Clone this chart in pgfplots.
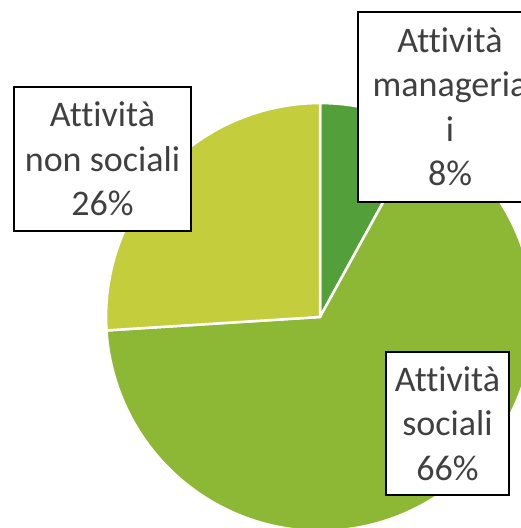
\documentclass[border=0pt]{standalone}
\usepackage{pgfplots}
\pgfplotsset{compat=1.18}
\usepackage{pgfplotstable}
\usepackage{fontspec}
\setmainfont{Carlito}[Ligatures={NoCommon}]
\definecolor{cMan}{RGB}{83,159,57}
\definecolor{cSoc}{RGB}{141,184,54}
\definecolor{cNon}{RGB}{196,206,60}
\definecolor{txt}{RGB}{64,64,64}
% shares (percent)
\pgfplotstableread{
label value
manageriali 8
sociali 66
nonsociali 26
}\piedata
\pgfplotstablegetelem{0}{value}\of\piedata \let\vA\pgfplotsretval
\pgfplotstablegetelem{1}{value}\of\piedata \let\vB\pgfplotsretval
\pgfplotstablegetelem{2}{value}\of\piedata \let\vC\pgfplotsretval
\pgfmathsetmacro{\aZ}{90}
\pgfmathsetmacro{\aA}{\aZ-3.6*\vA}
\pgfmathsetmacro{\aB}{\aA-3.6*\vB}
\pgfmathsetmacro{\aC}{\aB-3.6*\vC}
\begin{document}
\begin{tikzpicture}
\useasboundingbox (0,0) rectangle (521bp,528bp);
\clip (0,0) rectangle (521bp,528bp);
\begin{axis}[at={(0,0)}, anchor=south west, scale only axis,
  width=521bp, height=528bp, hide axis,
  xmin=-1.4884, xmax=0.9349, ymin=-0.9814, ymax=1.4744]
\addplot[fill=cMan, draw=white, line width=2.5bp, domain=\aA:\aZ, samples=40, variable=\t]
  ({0.995*cos(\t)},{0.995*sin(\t)}) -- (axis cs:0,0) -- cycle;
\addplot[fill=cSoc, draw=white, line width=2.5bp, domain=\aB:\aA, samples=150, variable=\t]
  ({0.995*cos(\t)},{0.995*sin(\t)}) -- (axis cs:0,0) -- cycle;
\addplot[fill=cNon, draw=white, line width=2.5bp, domain=\aC:\aB, samples=80, variable=\t]
  ({0.995*cos(\t)},{0.995*sin(\t)}) -- (axis cs:0,0) -- cycle;
\end{axis}
\tikzset{lbl/.style={draw=black, line width=1.2bp, fill=white, text=txt, align=center,
  font=\fontsize{36bp}{44.5bp}\selectfont, inner sep=0pt}}
\node[lbl, minimum width=184bp, minimum height=190bp] at (450bp,421bp) {Attività\\manageria\\i\\8\%};
\node[lbl, minimum width=177bp, minimum height=144bp] at (102.5bp,369bp) {Attività\\non sociali\\26\%};
\node[lbl, minimum width=123bp, minimum height=143bp] at (447.5bp,104.5bp) {Attività\\sociali\\66\%};
\end{tikzpicture}
\end{document}
